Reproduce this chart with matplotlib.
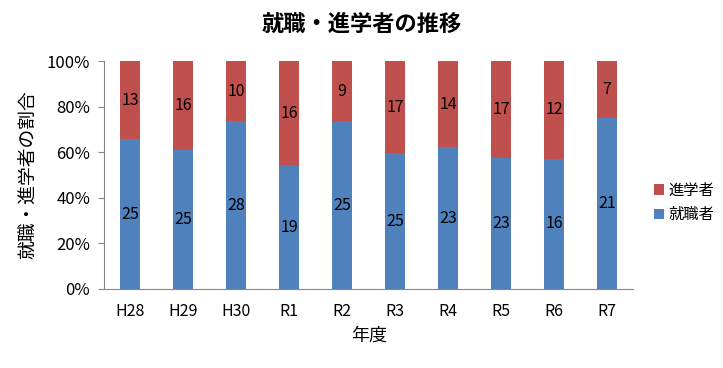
import matplotlib
matplotlib.use("Agg")
import matplotlib.pyplot as plt
import numpy as np

plt.rcParams['font.family'] = ['Noto Sans CJK JP', 'DejaVu Sans']

years = ["H28", "H29", "H30", "R1", "R2", "R3", "R4", "R5", "R6", "R7"]
employed = [25, 25, 28, 19, 25, 25, 23, 23, 16, 21]
advanced = [13, 16, 10, 16, 9, 17, 14, 17, 12, 7]

emp = np.array(employed, dtype=float)
adv = np.array(advanced, dtype=float)
tot = emp + adv
emp_p = emp / tot * 100
adv_p = adv / tot * 100

blue = "#4F81BD"
red = "#C0504D"

fig = plt.figure(figsize=(7.23, 3.68), dpi=100)
ax = fig.add_axes([0.1438, 0.2147, 0.7322, 0.6193])
x = np.arange(len(years))
w = 0.38
ax.bar(x, emp_p, w, color=blue, label="就職者")
ax.bar(x, adv_p, w, bottom=emp_p, color=red, label="進学者")

for i in range(len(years)):
    ax.text(x[i], emp_p[i] / 2, str(employed[i]), ha='center', va='center', fontsize=11.5)
    ax.text(x[i], emp_p[i] + adv_p[i] / 2, str(advanced[i]), ha='center', va='center', fontsize=11.5)

ax.set_xlim(-0.5, len(years) - 0.5)
ax.set_ylim(0, 100)
ax.set_yticks([0, 20, 40, 60, 80, 100])
ax.set_yticklabels(["0%", "20%", "40%", "60%", "80%", "100%"], fontsize=12)
ax.set_xticks(x)
ax.set_xticklabels(years, fontsize=11.5)
for s in ['top', 'right']:
    ax.spines[s].set_visible(False)
for s in ['left', 'bottom']:
    ax.spines[s].set_color('#868686')
ax.tick_params(axis='y', length=4, color='#868686', pad=6)
ax.tick_params(axis='x', length=0, pad=10)

ax.set_ylabel("就職・進学者の割合", fontsize=13.5, labelpad=6)
ax.set_xlabel("年度", fontsize=13, labelpad=5)
fig.text(0.5, 0.935, "就職・進学者の推移", ha='center', va='center', fontsize=16, fontweight='bold')

h, l = ax.get_legend_handles_labels()
fig.legend(h[::-1], l[::-1], loc='center left', bbox_to_anchor=(0.885, 0.45), frameon=False,
           fontsize=11, handlelength=0.7, handleheight=0.7, handletextpad=0.3, labelspacing=0.5)

fig.savefig("out.png", dpi=100)
